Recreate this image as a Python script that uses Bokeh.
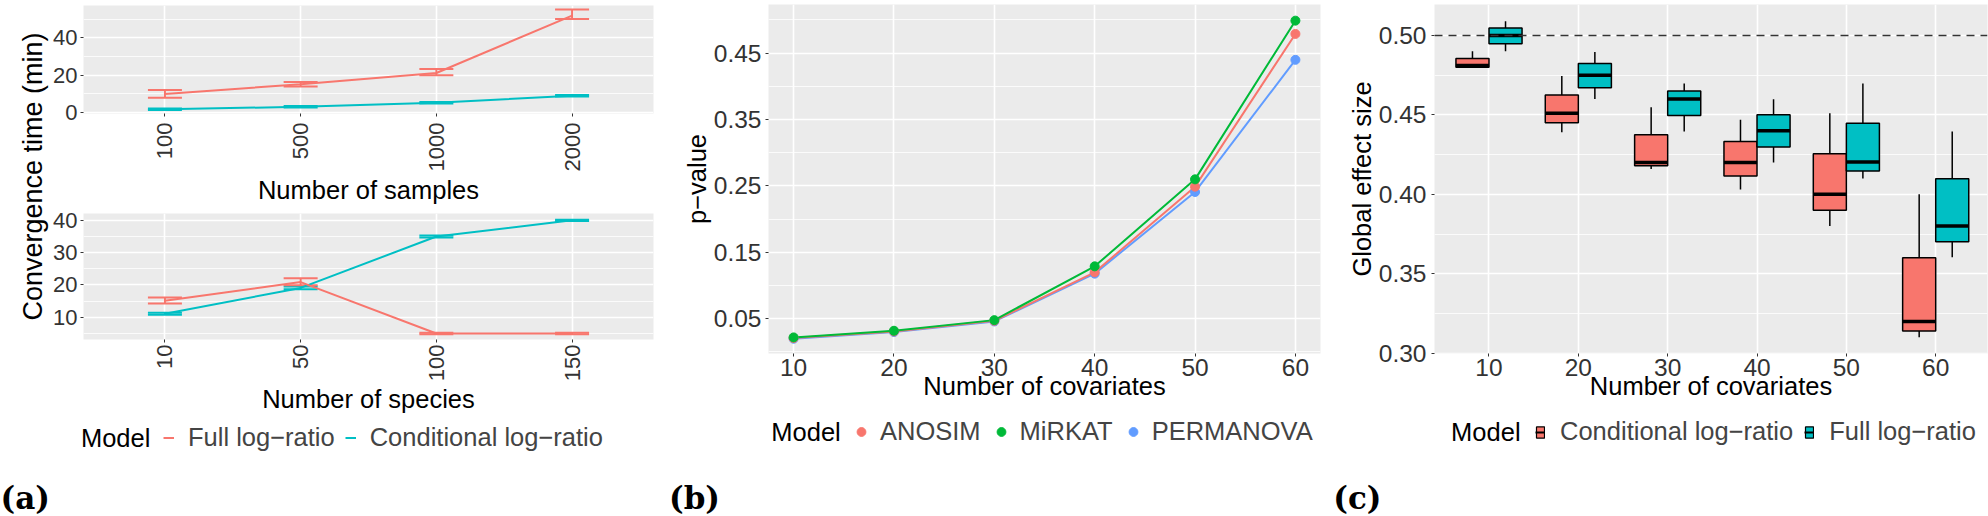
import math
from bokeh.plotting import figure
from bokeh.models import (Range1d, FactorRange, FixedTicker, Whisker, TeeHead, ColumnDataSource,
                          Legend, LegendItem, Label, Span, PrintfTickFormatter)
from bokeh.layouts import row, column
from bokeh.transform import dodge
from bokeh.embed import file_html
from bokeh.resources import INLINE

# ---------------- data ----------------
samples = ["100", "500", "1000", "2000"]
full_mean_samples = [10.0, 15.2, 21.2, 52.0]
full_lo_samples = [7.9, 14.0, 20.0, 50.2]
full_hi_samples = [12.1, 16.4, 23.4, 55.3]
cond_mean_samples = [1.7, 3.1, 5.2, 9.0]
cond_lo_samples = [1.3, 2.7, 4.8, 8.6]
cond_hi_samples = [2.1, 3.5, 5.6, 9.4]

species = ["10", "50", "100", "150"]
full_mean_species = [15.1, 20.9, 5.0, 5.0]
full_lo_species = [14.3, 19.9, 4.75, 4.75]
full_hi_species = [16.1, 22.1, 5.25, 5.25]
cond_mean_species = [11.1, 19.1, 35.0, 40.0]
cond_lo_species = [10.8, 18.7, 34.7, 39.8]
cond_hi_species = [11.4, 19.5, 35.3, 40.2]

covariates = [10, 20, 30, 40, 50, 60]
anosim = [0.021, 0.031, 0.047, 0.120, 0.249, 0.479]
mirkat = [0.022, 0.032, 0.048, 0.129, 0.260, 0.499]
permanova = [0.020, 0.030, 0.046, 0.118, 0.241, 0.440]

cond_lo = [0.480, 0.439, 0.416, 0.403, 0.380, 0.310]
cond_q1 = [0.480, 0.445, 0.418, 0.4115, 0.390, 0.314]
cond_med = [0.481, 0.451, 0.420, 0.420, 0.400, 0.320]
cond_q3 = [0.4855, 0.4625, 0.4375, 0.4333, 0.4256, 0.360]
cond_hi = [0.490, 0.4744, 0.4548, 0.4469, 0.451, 0.400]
full_lo = [0.490, 0.460, 0.4396, 0.420, 0.410, 0.3604]
full_q1 = [0.4948, 0.467, 0.4496, 0.4298, 0.4146, 0.3702]
full_med = [0.500, 0.475, 0.460, 0.440, 0.4204, 0.380]
full_q3 = [0.5046, 0.4823, 0.465, 0.450, 0.4448, 0.4098]
full_hi = [0.509, 0.4896, 0.4698, 0.4598, 0.4698, 0.4396]

# ---------------- style ----------------
FONT = "Liberation Sans"
SERIF = "DejaVu Serif"
RED = "#F8766D"
CYAN = "#00BFC4"
GREEN = "#00BA38"
BLUE = "#619CFF"
BG = "#EBEBEB"
TICKC = "#333333"
LEGSIZE = "25.5px"


def style(p, tick_size, title_size):
    p.background_fill_color = BG
    p.border_fill_color = "white"
    p.outline_line_color = None
    p.grid.grid_line_color = "white"
    p.grid.grid_line_width = 1.6
    for ax in p.axis:
        ax.axis_line_color = None
        ax.major_tick_line_color = TICKC
        ax.major_tick_line_width = 1
        ax.major_tick_out = 3
        ax.major_tick_in = 0
        ax.minor_tick_line_color = None
        ax.major_label_text_font = FONT
        ax.major_label_text_font_size = tick_size
        ax.major_label_text_color = TICKC
        ax.axis_label_text_font = FONT
        ax.axis_label_text_font_style = "normal"
        ax.axis_label_text_font_size = title_size
        ax.axis_label_text_color = "black"


def set_yticks(p, ticks, minor):
    t = FixedTicker(ticks=ticks, minor_ticks=minor)
    p.yaxis.ticker = t
    p.ygrid.ticker = t
    p.ygrid.minor_grid_line_color = "white"
    p.ygrid.minor_grid_line_width = 0.8


def blank(w, h, top=0, bottom=0):
    f = figure(width=w, height=h, x_range=Range1d(0, w), y_range=Range1d(0, h - top - bottom),
               min_border=0, min_border_top=top, min_border_bottom=bottom,
               toolbar_location=None, output_backend="svg",
               x_axis_location=None, y_axis_location=None)
    f.outline_line_color = None
    f.grid.visible = False
    f.background_fill_color = "white"
    f.border_fill_color = "white"
    return f


def errorbars(p, cats, lo, hi, color):
    src = ColumnDataSource(dict(x=cats, lo=lo, hi=hi))
    w = Whisker(base="x", lower="lo", upper="hi", source=src, line_color=color, line_width=2,
                upper_head=TeeHead(size=34, line_color=color, line_width=2),
                lower_head=TeeHead(size=34, line_color=color, line_width=2))
    p.add_layout(w)


# ---------------- panel (a) ----------------
pa1 = figure(width=615, height=207,
             x_range=FactorRange(factors=samples, range_padding=0.1, range_padding_units="absolute"),
             y_range=Range1d(-0.517, 57.41),
             min_border_left=31, min_border_right=12, min_border_top=5, min_border_bottom=90,
             toolbar_location=None, output_backend="svg")
style(pa1, "22px", "25.5px")
set_yticks(pa1, [0, 20, 40], [10, 30, 50])
pa1.xaxis.major_label_orientation = math.pi / 2
pa1.xaxis.axis_label = "Number of samples"
pa1.xaxis.major_label_standoff = 6
pa1.xaxis.axis_label_standoff = 2
pa1.yaxis.major_label_standoff = 2
pa1.line(samples, cond_mean_samples, line_color=CYAN, line_width=2)
errorbars(pa1, samples, cond_lo_samples, cond_hi_samples, CYAN)
pa1.line(samples, full_mean_samples, line_color=RED, line_width=2)
errorbars(pa1, samples, full_lo_samples, full_hi_samples, RED)

pa2 = figure(width=615, height=209,
             x_range=FactorRange(factors=species, range_padding=0.1, range_padding_units="absolute"),
             y_range=Range1d(3.142, 42.115),
             min_border_left=31, min_border_right=12, min_border_top=6, min_border_bottom=74,
             toolbar_location=None, output_backend="svg")
style(pa2, "22px", "25.5px")
set_yticks(pa2, [10, 20, 30, 40], [5, 15, 25, 35])
pa2.xaxis.major_label_orientation = math.pi / 2
pa2.xaxis.axis_label = "Number of species"
pa2.xaxis.major_label_standoff = 2
pa2.xaxis.axis_label_standoff = 1
pa2.yaxis.major_label_standoff = 2
pa2.line(species, cond_mean_species, line_color=CYAN, line_width=2)
errorbars(pa2, species, cond_lo_species, cond_hi_species, CYAN)
pa2.line(species, full_mean_species, line_color=RED, line_width=2)
errorbars(pa2, species, full_lo_species, full_hi_species, RED)

# shared y label of panel (a); frame rows 5..342 (same borders as pa1 top / pa2 bottom)
lab_a = blank(50, 416, top=5, bottom=74)
lab_a.add_layout(Label(x=32.5, y=337 - (176 - 5), text="Convergence time (min)", angle=math.pi / 2,
                       text_align="center", text_baseline="middle", text_font=FONT,
                       text_font_size="27px", text_color="black"))

block_a = row(lab_a, column(pa1, pa2))

# ---------------- panel (b) ----------------
pb = figure(width=657, height=416, x_range=Range1d(7.5, 62.5), y_range=Range1d(-0.00226, 0.52334),
            min_border_left=103, min_border_right=2, min_border_top=4, min_border_bottom=63,
            toolbar_location=None, output_backend="svg")
style(pb, "24.5px", "25.5px")
tb = FixedTicker(ticks=covariates)
pb.xaxis.ticker = tb
pb.xgrid.ticker = tb
set_yticks(pb, [0.05, 0.15, 0.25, 0.35, 0.45], [0.0, 0.10, 0.20, 0.30, 0.40, 0.50])
pb.yaxis.formatter = PrintfTickFormatter(format="%.2f")
pb.xaxis.axis_label = "Number of covariates"
pb.yaxis.axis_label = "p\u2212value"
pb.yaxis.major_label_standoff = 3
pb.yaxis.axis_label_standoff = 0
pb.xaxis.major_label_standoff = 2
pb.xaxis.axis_label_standoff = -7
for ys, c in ((permanova, BLUE), (anosim, RED), (mirkat, GREEN)):
    pb.line(covariates, ys, line_color=c, line_width=2)
for ys, c in ((permanova, BLUE), (anosim, RED), (mirkat, GREEN)):
    pb.scatter(covariates, ys, size=9, fill_color=c, line_color=c)

# ---------------- panel (c) ----------------
pc = figure(width=666, height=416, x_range=Range1d(3.9, 65.798), y_range=Range1d(0.2998, 0.51947),
            min_border_left=112, min_border_right=1, min_border_top=4, min_border_bottom=63,
            toolbar_location=None, output_backend="svg")
style(pc, "24.5px", "25.5px")
tc = FixedTicker(ticks=covariates)
pc.xaxis.ticker = tc
pc.xgrid.ticker = tc
set_yticks(pc, [0.30, 0.35, 0.40, 0.45, 0.50], [0.325, 0.375, 0.425, 0.475])
pc.yaxis.formatter = PrintfTickFormatter(format="%.2f")
pc.xaxis.axis_label = "Number of covariates"
pc.yaxis.axis_label = "Global effect size"
pc.yaxis.major_label_standoff = 4
pc.yaxis.axis_label_standoff = 0
pc.xaxis.major_label_standoff = 2
pc.xaxis.axis_label_standoff = -7

BW = 3.7
for (lo, q1, md, q3, hi, col, off) in ((cond_lo, cond_q1, cond_med, cond_q3, cond_hi, RED, -BW / 2),
                                      (full_lo, full_q1, full_med, full_q3, full_hi, CYAN, BW / 2)):
    src = ColumnDataSource(dict(cov=covariates, lo=lo, q1=q1, med=md, q3=q3, hi=hi))
    pc.segment(x0=dodge("cov", off, range=pc.x_range), x1=dodge("cov", off, range=pc.x_range),
               y0="lo", y1="hi", source=src, line_color="black", line_width=1.5)
    pc.vbar(x=dodge("cov", off, range=pc.x_range), width=BW, bottom="q1", top="q3", source=src,
            fill_color=col, line_color="black", line_width=1.5)
    pc.segment(x0=dodge("cov", off - BW / 2, range=pc.x_range), x1=dodge("cov", off + BW / 2, range=pc.x_range),
               y0="med", y1="med", source=src, line_color="black", line_width=3.5)
pc.add_layout(Span(location=0.5, dimension="width", line_color="#333333", line_width=1.5, line_dash="8 6"))

# ---------------- footer with legends and panel labels ----------------
FH = 100
foot = blank(1988, FH)
OFF = [-1000]  # legend-key renderers sit outside the visible range


def legend(items, x, yc, spacing, standoff, gw, gh, rowh=29):
    lg = Legend(items=items, location=(x, yc - rowh / 2), orientation="horizontal", padding=0, margin=0,
                spacing=spacing, label_standoff=standoff, glyph_width=gw, glyph_height=gh,
                label_text_font=FONT, label_text_font_size=LEGSIZE,
                background_fill_alpha=0, border_line_color=None)
    foot.add_layout(lg)


def text(x, y, s, font=FONT, size=LEGSIZE, bold=False):
    foot.add_layout(Label(x=x, y=y, text=s, text_font=font, text_font_size=size,
                          text_font_style="bold" if bold else "normal",
                          text_baseline="middle", text_align="left", text_color="black"))


TOP = 416  # footer top in page pixels
ya = TOP + FH - 437      # legend row centre, panel (a)
ybc = TOP + FH - 431.7   # legend row centre, panels (b), (c)
ylab = TOP + FH - 497    # panel letters

# (a)
ra = foot.line(OFF, [0], line_color=RED, line_width=2)
ca = foot.line(OFF, [0], line_color=CYAN, line_width=2)
legend([LegendItem(label="Full log\u2212ratio", renderers=[ra]),
        LegendItem(label="Conditional log\u2212ratio", renderers=[ca])],
       163, ya, 10, 14, 11, 29)
text(80.4, ya, "Model")
text(0, ylab, "(a)", SERIF, "31px", True)

# (b)
rb = [foot.scatter(OFF, [0], fill_color=c, line_color=c) for c in (RED, GREEN, BLUE)]
legend([LegendItem(label=n, renderers=[r]) for n, r in zip(["ANOSIM", "MiRKAT", "PERMANOVA"], rb)],
       850, ybc, 9, 8, 22, 29)
text(770.8, ybc, "Model")
text(668.5, ylab, "(b)", SERIF, "31px", True)

# (c)
items_c = []
for n, c in (("Conditional log\u2212ratio", RED), ("Full log\u2212ratio", CYAN)):
    vb = foot.vbar(x=OFF, top=[0], width=1, fill_color=c, line_color="black", line_width=1.2)
    sg = foot.segment(x0=OFF, y0=[0], x1=OFF, y1=[0], line_color="black", line_width=2)
    items_c.append(LegendItem(label=n, renderers=[vb, sg]))
legend(items_c, 1535, ybc, 11, 15, 10, 14)
text(1450.6, ybc, "Model")
text(1332.8, ylab, "(c)", SERIF, "31px", True)

layout = column(row(block_a, pb, pc), foot)
open("out.html", "w").write(file_html(layout, INLINE))
